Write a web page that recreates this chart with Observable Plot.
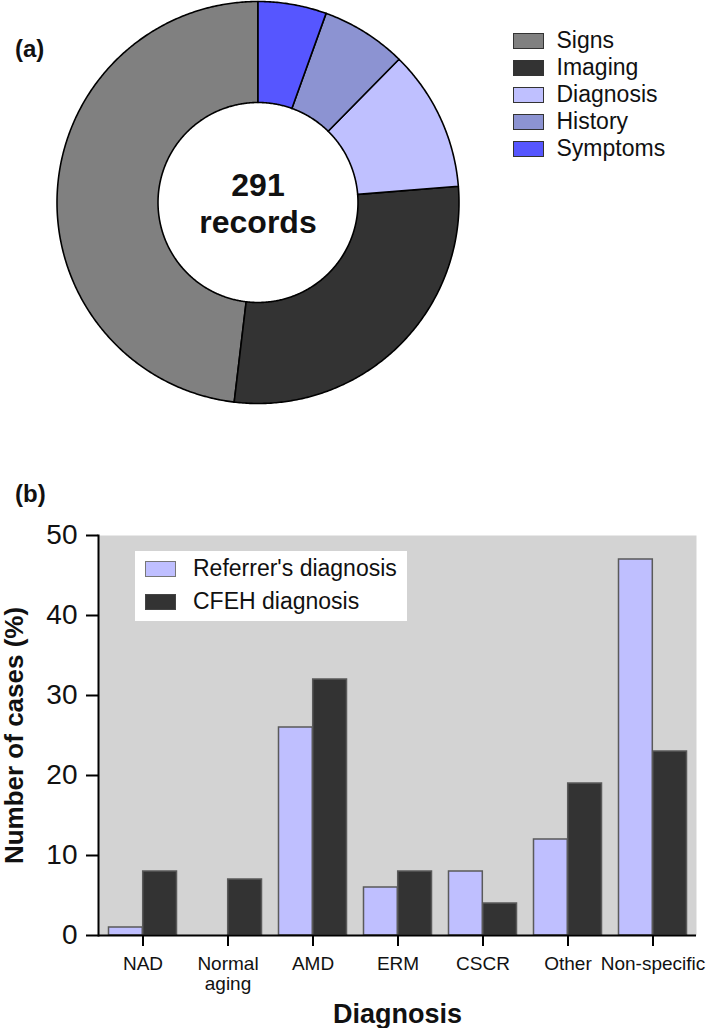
<!DOCTYPE html>
<html><head><meta charset="utf-8">
<script src="https://cdn.jsdelivr.net/npm/d3@7"></script>
<script src="https://cdn.jsdelivr.net/npm/@observablehq/plot@0.6"></script>
<style>
html,body{margin:0;padding:0;background:#fff;}
body{width:709px;height:1028px;overflow:hidden;font-family:Arial,"Liberation Sans",Helvetica,sans-serif;color:#111;}
#root{position:relative;width:709px;height:1028px;}
#root svg{position:absolute;left:0;}
.panel{position:absolute;font-weight:bold;font-size:24px;line-height:24px;white-space:nowrap;}
.legrow{position:absolute;display:flex;align-items:center;white-space:nowrap;}
.sw{box-sizing:border-box;width:31px;height:16px;border:1.5px solid #333;}
#barLegend{position:absolute;background:#fff;}
</style></head>
<body><div id="root"></div>
<script>
// ---------- Panel (a): record content ----------
const pieCategories = ["Signs", "Imaging", "Diagnosis", "History", "Symptoms"];
const pieCounts = [140, 82, 33, 20, 16];
const pieColors = ["#808080", "#333333", "#bfc0ff", "#8c93d2", "#5656ff"];
const centerWord = "records";

// ---------- Panel (b): diagnoses ----------
const diagnoses = ["NAD", "Normal aging", "AMD", "ERM", "CSCR", "Other", "Non-specific"];
const referrerPct = [1, 0, 26, 6, 8, 12, 47];
const cfehPct = [8, 7, 32, 8, 4, 19, 23];
const seriesNames = ["Referrer's diagnosis", "CFEH diagnosis"];
const seriesColors = ["#bfbfff", "#333333"];
const yTicks = [0, 10, 20, 30, 40, 50];

const FONT = 'Arial, "Liberation Sans", Helvetica, sans-serif';
const root = document.getElementById("root");

// ----- donut geometry from d3.pie -----
const pieData = pieCategories.map((name, i) => ({name, value: pieCounts[i], color: pieColors[i]}));
const arcs = d3.pie().sort(null).value(d => d.value).startAngle(0).endAngle(-2 * Math.PI)(pieData);
const innerRatio = 0.4975;
function ring(a0, a1) {
  const n = Math.max(2, Math.ceil(Math.abs(a1 - a0) / (Math.PI / 360)));
  const pts = [];
  for (let k = 0; k <= n; k++) { const a = a0 + (a1 - a0) * k / n; pts.push([Math.sin(a), Math.cos(a)]); }
  for (let k = n; k >= 0; k--) { const a = a0 + (a1 - a0) * k / n; pts.push([innerRatio * Math.sin(a), innerRatio * Math.cos(a)]); }
  return pts;
}

const pie = Plot.plot({
  width: 709, height: 430,
  marginLeft: 56.5, marginRight: 250.5, marginTop: 1, marginBottom: 27,
  x: {domain: [-1, 1], axis: null},
  y: {domain: [-1, 1], axis: null},
  style: {fontFamily: FONT, color: "#111", background: "transparent", overflow: "visible"},
  marks: [
    ...arcs.map(a => Plot.line(ring(a.startAngle, a.endAngle), {
      x: d => d[0], y: d => d[1], curve: "linear-closed",
      fill: a.data.color, stroke: "#000", strokeWidth: 1.6
    })),
    Plot.text([`${d3.sum(pieCounts)}\n${centerWord}`], {
      text: d => d, frameAnchor: "middle", fontSize: 32, fontWeight: "bold",
      lineHeight: 1.15, fill: "#111"
    })
  ]
});
pie.style.top = "0px";
root.appendChild(pie);

// pie legend
pieCategories.forEach((name, i) => {
  const row = document.createElement("div");
  row.className = "legrow";
  row.style.left = "513px";
  row.style.top = (27 + 27 * i) + "px";
  row.style.height = "27px";
  row.style.fontSize = "23px";
  row.style.lineHeight = "27px";
  row.innerHTML = `<div class="sw" style="background:${pieColors[i]}"></div><span style="margin-left:12.5px">${name}</span>`;
  root.appendChild(row);
});

// panel labels
function panelLabel(txt, top) {
  const d = document.createElement("div");
  d.className = "panel";
  d.style.left = "15px";
  d.style.top = top + "px";
  d.textContent = txt;
  root.appendChild(d);
}
panelLabel("(a)", 37);
panelLabel("(b)", 482);

// ----- bar chart -----
const barRows = diagnoses.map((d, i) => ({diagnosis: d, referrer: referrerPct[i], cfeh: cfehPct[i]}));
const outerInset = 8.5, innerInset = 42.7;
const bar = Plot.plot({
  width: 709, height: 558,
  marginLeft: 98, marginRight: 13, marginTop: 65, marginBottom: 93,
  x: {domain: diagnoses, padding: 0, axis: null},
  y: {domain: [0, 50], axis: null},
  style: {fontFamily: FONT, color: "#111", background: "transparent", overflow: "visible"},
  marks: [
    Plot.frame({fill: "#d3d3d3", stroke: null}),
    Plot.barY(barRows, {x: "diagnosis", y: "referrer", fill: seriesColors[0], stroke: "#5a5a5a", strokeWidth: 1.5,
      insetLeft: outerInset, insetRight: innerInset}),
    Plot.barY(barRows, {x: "diagnosis", y: "cfeh", fill: seriesColors[1], stroke: "#5a5a5a", strokeWidth: 1.5,
      insetLeft: innerInset, insetRight: outerInset}),
    Plot.ruleY([0], {stroke: "#000", strokeWidth: 2}),
    Plot.frame({anchor: "left", stroke: "#000", strokeWidth: 2}),
    Plot.axisY({ticks: yTicks, tickSize: 12, tickPadding: 9, fontSize: 28, label: null,
      stroke: "#000", strokeWidth: 2, tickFormat: d => String(d)}),
    Plot.axisX({tickSize: 11, tickPadding: 9, fontSize: 19, label: null, lineHeight: 1.05,
      stroke: "#000", strokeWidth: 2, tickFormat: d => d.replace(" ", "\n")}),
    Plot.text(["Diagnosis"], {text: d => d, frameAnchor: "bottom", lineAnchor: "top", dy: 68,
      fontSize: 27, fontWeight: "bold", fill: "#111"}),
    Plot.text(["Number of cases (%)"], {text: d => d, frameAnchor: "left", textAnchor: "middle",
      lineAnchor: "middle", rotate: -90, dx: -84,
      fontSize: 26, fontWeight: "bold", fill: "#111"})
  ]
});
bar.style.top = "470px";
root.appendChild(bar);

// bar legend (inside plot area)
const box = document.createElement("div");
box.id = "barLegend";
box.style.left = "135px"; box.style.top = "551px";
box.style.width = "272px"; box.style.height = "70px";
root.appendChild(box);
seriesNames.forEach((name, i) => {
  const row = document.createElement("div");
  row.className = "legrow";
  row.style.left = "145px";
  row.style.top = (552 + 33 * i) + "px";
  row.style.height = "33px";
  row.style.fontSize = "23px";
  row.style.lineHeight = "33px";
  row.innerHTML = `<div class="sw" style="background:${seriesColors[i]};border-color:${i ? '#444' : '#777'}"></div><span style="margin-left:17px">${name}</span>`;
  root.appendChild(row);
});
</script>
</body></html>
